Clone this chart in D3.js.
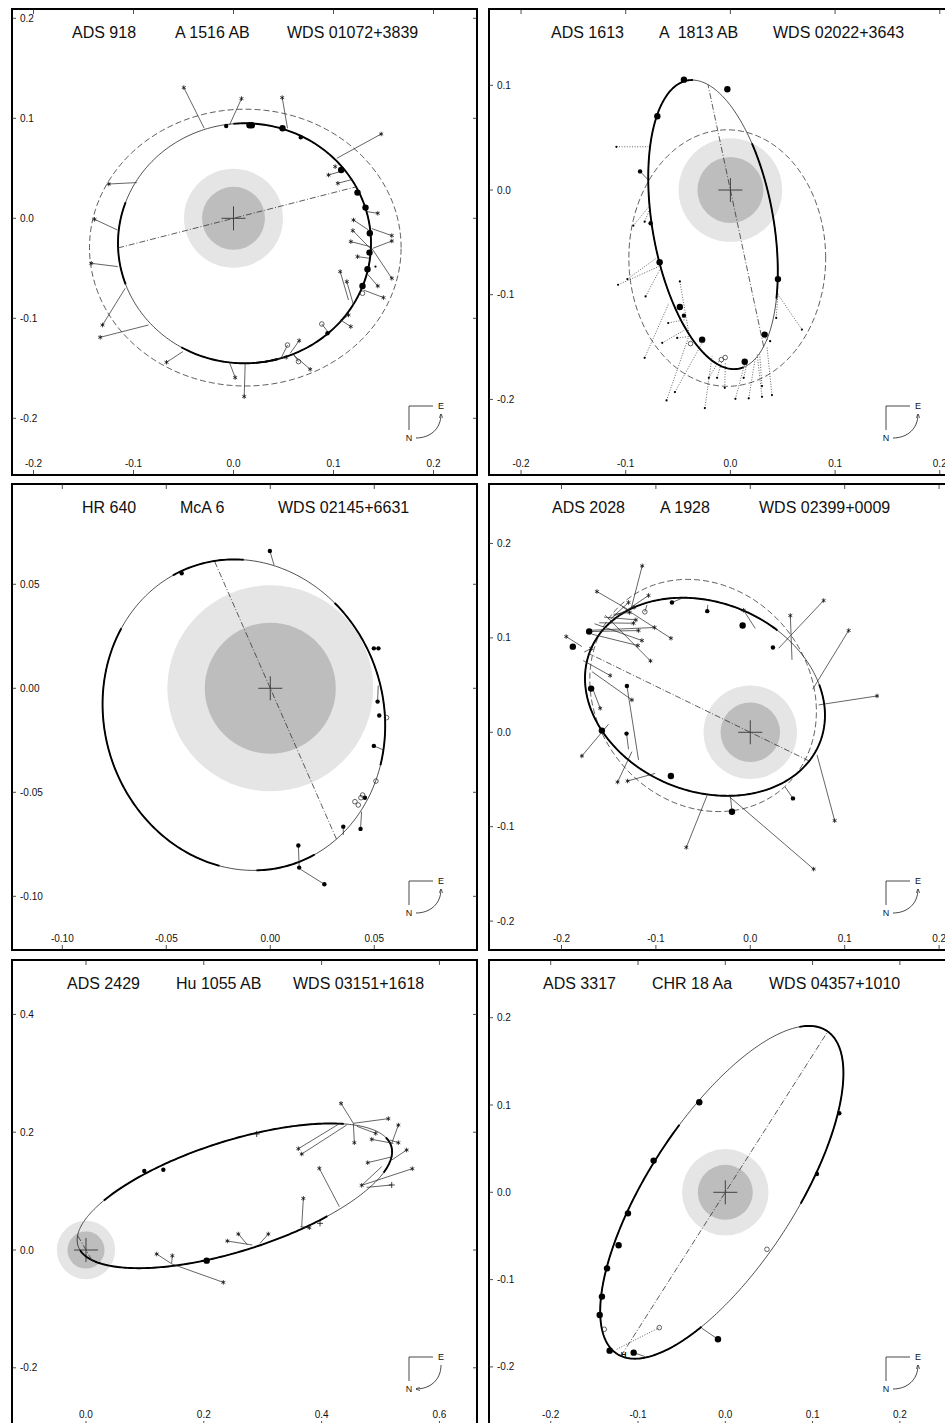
<!DOCTYPE html>
<html>
<head>
<meta charset="utf-8">
<script src="https://cdn.jsdelivr.net/npm/d3@7"></script>
<style>
body { margin: 0; background: #fff; }
text { font-family: "Liberation Sans", Arial, sans-serif; fill: #111; white-space: pre; }
</style>
</head>
<body>
<svg id="fig" width="945" height="1423"></svg>
<script>
// ---- data (arc-seconds) ----
var titles = [
    ["ADS 918", "A 1516 AB", "WDS 01072+3839"],
    ["ADS 1613", "A  1813 AB", "WDS 02022+3643"],
    ["HR 640", "McA 6", "WDS 02145+6631"],
    ["ADS 2028", "A 1928", "WDS 02399+0009"],
    ["ADS 2429", "Hu 1055 AB", "WDS 03151+1618"],
    ["ADS 3317", "CHR 18 Aa", "WDS 04357+1010"]
];
var xDomains = [[-0.2215, 0.2435], [-0.2306, 0.2136], [-0.1242, 0.0994], [-0.2768, 0.2158], [-0.1256, 0.6638], [-0.2707, 0.2620]];
var yDomains = [[-0.2567, 0.2093], [-0.2722, 0.1729], [-0.1258, 0.0982], [-0.2306, 0.2630], [-0.2988, 0.4924], [-0.2677, 0.2661]];
var xTicks = [[-0.2, -0.1, 0, 0.1, 0.2], [-0.2, -0.1, 0, 0.1, 0.2], [-0.1, -0.05, 0, 0.05], [-0.2, -0.1, 0, 0.1, 0.2], [0, 0.2, 0.4, 0.6], [-0.2, -0.1, 0, 0.1, 0.2]];
var yTicks = [[-0.2, -0.1, 0, 0.1, 0.2], [-0.2, -0.1, 0, 0.1], [-0.1, -0.05, 0, 0.05], [-0.2, -0.1, 0, 0.1, 0.2], [-0.2, 0, 0.2, 0.4], [-0.2, -0.1, 0, 0.1, 0.2]];
var tickDecimals = [1, 1, 2, 1, 1, 1];

// apparent orbits: centre x, centre y, semi-axis a, semi-axis b, tilt (deg)
var orbits = [
    [0.011, -0.025, 0.1265, 0.120, 0],
    [-0.0166, -0.033, 0.1398, 0.0578, 100],
    [-0.0127, -0.0128, 0.0755, 0.0671, 108],
    [-0.048, 0.0376, 0.131, 0.100, -22],
    [0.2523, 0.092, 0.279, 0.0933, 17.7],
    [-0.004, 0.0, 0.2206, 0.0841, 57]
];
var oldOrbits = [
    [0.0118, -0.0293, 0.1558, 0.1384, 0],
    [-0.003, -0.065, 0.094, 0.1225, 0],
    null,
    [-0.05, 0.039, 0.1297, 0.1127, -50],
    null,
    null
];
var nodeAngles = [14.4, 102, 113.7, 154, 120, 57.5];
var resolution = [0.0495, 0.0315];
var motionDir = [1, 1, 1, 1, -1, 1];

// observations: x, y, type, orbit x, orbit y
var obsA = [
    [-0.0073, 0.0923, "s"], [0.016, 0.093, "S"], [0.0183, 0.093, "S"], [0.049, 0.090, "S"],
    [0.0673, 0.081, "s"], [0.1077, 0.0483, "S"], [0.124, 0.0257, "S"], [0.132, 0.0107, "S"],
    [0.1363, -0.015, "S"], [0.136, -0.0343, "S"], [0.134, -0.051, "S"], [0.129, -0.0677, "S"],
    [0.094, -0.115, "s"], [0.129, -0.075, "o"], [0.0883, -0.1057, "o", 0.094, -0.113],
    [0.054, -0.1267, "o", 0.048, -0.139], [0.065, -0.1433, "o", 0.06, -0.136], [0.142, -0.0483, "."],
    [-0.0497, 0.1307, "*", -0.0293, 0.090], [0.008, 0.1197, "*", -0.004, 0.0933],
    [0.0487, 0.1207, "*", 0.054, 0.090], [0.1477, 0.0843, "*", 0.1033, 0.060],
    [0.1017, 0.0517, "*"], [0.095, 0.0433, "*", 0.1067, 0.0467], [0.1043, 0.035, "*", 0.1193, 0.039],
    [0.1443, 0.005, "*", 0.1333, 0.0067], [0.12, -0.0017, "*", 0.135, -0.0117],
    [0.1193, -0.0123, "*", 0.1367, -0.030], [0.1173, -0.0233, "*", 0.1367, -0.0283],
    [0.1583, -0.0173, "*", 0.1383, -0.0103], [0.1583, -0.0227, "*", 0.1393, -0.030],
    [0.124, -0.0383, "*", 0.136, -0.040], [0.1583, -0.060, "*", 0.1383, -0.030],
    [0.1443, -0.0677, "*", 0.1333, -0.055], [0.150, -0.0793, "*", 0.130, -0.0717],
    [0.1067, -0.0533, "*", 0.115, -0.0817], [0.1133, -0.0633, "*", 0.12, -0.0867],
    [0.115, -0.0967, "*", 0.107, -0.1033], [0.1173, -0.1083, "*", 0.107, -0.1017],
    [0.0657, -0.1223, "*", 0.0567, -0.135], [0.0527, -0.139, "*", 0.0407, -0.141],
    [0.0767, -0.151, "*", 0.060, -0.1367], [0.0017, -0.1593, "*", -0.004, -0.1443],
    [0.0107, -0.1783, "*", 0.0117, -0.145], [-0.067, -0.144, "*", -0.0507, -0.1333],
    [-0.1333, -0.119, "*", -0.085, -0.1067], [-0.131, -0.1067, "*", -0.1083, -0.070],
    [-0.1423, -0.045, "*", -0.1157, -0.0483], [-0.139, -0.001, "*", -0.116, -0.0117],
    [-0.1247, 0.0343, "*", -0.0967, 0.0357]
];
var obsB = [
    [-0.0444, 0.1054, "S"], [-0.0029, 0.0962, "S"], [-0.0698, 0.0705, "S"],
    [-0.0863, 0.0178, "s", -0.0784, 0.0095], [-0.0762, -0.0317, "s"], [-0.0676, -0.0689, "S"],
    [0.0454, -0.0851, "S"], [-0.0483, -0.1117, "S"], [-0.0444, -0.120, "s"], [-0.027, -0.1429, "S"],
    [0.0327, -0.1381, "S"], [0.0137, -0.1641, "S"],
    [-0.0381, -0.1467, "o"], [-0.0086, -0.162, "o"], [-0.005, -0.160, "o"],
    [-0.1089, 0.0413, ".", -0.0784, 0.0413], [-0.0927, -0.034, ".", -0.0778, -0.0159],
    [-0.0819, -0.0302, ".", -0.077, -0.018], [-0.0984, -0.0851, ".", -0.0698, -0.0644],
    [-0.1073, -0.0905, ".", -0.0683, -0.073], [-0.081, -0.1016, ".", -0.0676, -0.0762],
    [-0.0483, -0.0873, ".", -0.0397, -0.1365], [-0.0594, -0.127, ".", -0.0429, -0.1238],
    [-0.0651, -0.146, ".", -0.0429, -0.1333], [-0.0819, -0.1603, ".", -0.0587, -0.1079],
    [-0.0508, -0.1413, ".", -0.04, -0.14], [-0.061, -0.201, ".", -0.0397, -0.1397],
    [-0.053, -0.193, ".", -0.027, -0.146], [-0.0244, -0.2083, ".", -0.0175, -0.1587],
    [-0.0206, -0.1794, ".", -0.0111, -0.1635], [-0.0127, -0.1794, ".", -0.008, -0.163],
    [-0.0054, -0.1889, ".", -0.0048, -0.165], [0.0048, -0.1994, ".", 0.0143, -0.1635],
    [0.0175, -0.199, ".", 0.0238, -0.1603], [0.0127, -0.1794, ".", 0.016, -0.164],
    [0.0302, -0.1975, ".", 0.0254, -0.1556], [0.0302, -0.1873, ".", 0.028, -0.157],
    [0.0397, -0.1959, ".", 0.0349, -0.1492], [0.0438, -0.1222, ".", 0.0454, -0.0984],
    [0.0683, -0.1333, ".", 0.0454, -0.0997], [0.038, -0.1444, ".", 0.033, -0.141]
];
var obsC = [
    [-0.0002, 0.066, "s", 0.0018, 0.0593], [-0.0426, 0.0553, "s"], [0.0498, 0.0192, "s"],
    [0.052, 0.0192, "s"], [0.0516, -0.0064, "s", 0.0519, 0.0013], [0.0524, -0.0131, "s"],
    [0.0498, -0.0277, "s", 0.0543, -0.0296], [0.0455, -0.0526, "s"],
    [0.0351, -0.0665, "s", 0.0351, -0.0705], [0.0434, -0.0676, "s", 0.0439, -0.0593],
    [0.0135, -0.0756, "s", 0.0139, -0.0862], [0.0139, -0.0862, "s"], [0.026, -0.0942, "s", 0.0145, -0.087],
    [0.0559, -0.0141, "o"], [0.0508, -0.0446, "o"], [0.0444, -0.0513, "o"],
    [0.0436, -0.0526, "o"], [0.0407, -0.0545, "o"], [0.0423, -0.0561, "o"]
];
var obsD = [
    [-0.1707, 0.1067, "S"], [-0.188, 0.0907, "S"], [-0.1686, 0.0463, "S"], [-0.1572, 0.0018, "S"],
    [-0.1311, -0.0014, "s", -0.129, -0.018], [-0.1307, 0.0491, "s", -0.1184, -0.0293],
    [-0.083, 0.1375, "s", -0.07, 0.143], [-0.0456, 0.1283, "s", -0.045, 0.135],
    [-0.0081, 0.1131, "S"], [0.024, 0.0898, "s"], [-0.0841, -0.0463, "S"],
    [-0.0194, -0.0841, "S", -0.021, -0.068], [0.0452, -0.070, "s", 0.037, -0.058],
    [-0.1117, 0.1276, "o", -0.1095, 0.135],
    [-0.1145, 0.1763, "*", -0.1261, 0.1314], [-0.1625, 0.1491, "*", -0.129, 0.1297],
    [-0.1078, 0.1449, "*", -0.1392, 0.1237], [-0.195, 0.1014, "*", -0.1784, 0.0908],
    [-0.0841, 0.0996, "*", -0.136, 0.1332], [-0.1057, 0.0756, "*", -0.1537, 0.124],
    [-0.1184, 0.1078, "*", -0.170, 0.1067], [-0.1014, 0.111, "*", -0.170, 0.108],
    [-0.1148, 0.0972, "*", -0.165, 0.115], [-0.1191, 0.0919, "*", -0.168, 0.104],
    [-0.1237, 0.1155, "*", -0.160, 0.116], [-0.1212, 0.1191, "*", -0.155, 0.122],
    [-0.123, 0.1325, "*", -0.145, 0.123], [-0.129, 0.1375, "*", -0.148, 0.120],
    [-0.1279, 0.1269, "*", -0.145, 0.125], [0.0777, 0.1396, "*", 0.030, 0.089],
    [0.0424, 0.1237, "*", 0.0442, 0.0767], [-0.0071, 0.1293, "*", 0.0053, 0.110],
    [0.1042, 0.1078, "*", 0.0661, 0.0456], [0.1343, 0.0385, "*", 0.0724, 0.029],
    [0.0894, -0.0936, "*", 0.0707, -0.024], [0.0671, -0.1449, "*", -0.023, -0.0675],
    [-0.0678, -0.1219, "*", -0.0449, -0.0647], [-0.1406, -0.0527, "*", -0.1254, -0.0205],
    [-0.130, -0.0516, "*", -0.1007, -0.0435], [-0.1784, -0.0251, "*", -0.1502, 0.0085],
    [-0.1254, 0.0343, "*", -0.1678, 0.0643], [-0.1484, 0.0601, "*", -0.177, 0.076],
    [-0.1686, 0.0887, "*", -0.176, 0.085], [-0.159, 0.0254, "*", -0.167, 0.0463]
];
var obsE = [
    [0.099, 0.1341, "s"], [0.1313, 0.1364, "s"], [0.2049, -0.0181, "S"],
    [0.4329, 0.249, "*", 0.4539, 0.2151], [0.5133, 0.223, "*", 0.4539, 0.2151],
    [0.4556, 0.1822, "*", 0.4539, 0.2151], [0.3605, 0.172, "*", 0.4312, 0.2151],
    [0.3662, 0.163, "*", 0.4426, 0.2122], [0.4918, 0.1981, "*", 0.460, 0.210],
    [0.4851, 0.1879, "*", 0.522, 0.181], [0.5303, 0.2122, "*", 0.519, 0.181],
    [0.5303, 0.1822, "*", 0.516, 0.1868], [0.5443, 0.1698, "*", 0.519, 0.1528],
    [0.4782, 0.1483, "*", 0.5206, 0.1585], [0.554, 0.1381, "*", 0.468, 0.1098],
    [0.468, 0.1098, "*", 0.502, 0.1415], [0.519, 0.1104, "+", 0.4765, 0.1064],
    [0.3961, 0.1387, "*", 0.4301, 0.0736], [0.369, 0.0877, "*", 0.3662, 0.0396],
    [0.3792, 0.0379, "*", 0.364, 0.0396], [0.3973, 0.0453, "+"],
    [0.3096, 0.0272, "*", 0.2954, 0.0113], [0.2586, 0.0272, "*", 0.274, 0.009],
    [0.240, 0.0153, "*", 0.2824, 0.0085], [0.2898, 0.197, "+"],
    [0.2332, -0.0549, "*", 0.146, -0.0238], [0.120, -0.0068, "*", 0.146, -0.0238],
    [0.1466, -0.0096, "*", 0.1455, -0.022]
];
var obsF = [
    [-0.0298, 0.1031, "S"], [-0.0821, 0.0363, "S"], [-0.1115, -0.0241, "S"], [-0.1222, -0.0607, "S"],
    [-0.1355, -0.0871, "S"], [-0.1413, -0.1195, "S"], [-0.1439, -0.1405, "S"], [-0.1325, -0.1814, "S"],
    [-0.105, -0.1837, "S", -0.0916, -0.1883], [-0.0084, -0.1684, "S", -0.0267, -0.1558],
    [0.1306, 0.0905, "s"], [0.105, 0.021, "s"], [0.0477, -0.0653, "o"], [-0.1386, -0.1569, "o"],
    [-0.0756, -0.155, "o:", -0.126, -0.1806], [-0.1165, -0.1856, "H"]
];
var observations = [obsA, obsB, obsC, obsD, obsE, obsF];

// ---- layout / style ----
var colX = [12, 489], rowY = [9, 484, 960];
var W = 465, H = 466;
var titleX = [[60, 163, 275], [62, 170, 284], [70, 168, 266], [63, 171, 270], [55, 164, 281], [54, 163, 280]];
// parameter ranges (deg) drawn with the heavy pen
var thickArcs = [
    [[-85, 95], [160, 200], [240, 285]],
    [[-5, 185], [235, 300]],
    [[-20, 10], [40, 150], [165, 190], [235, 300]],
    [[70, 395]],
    [[40, 140], [185, 300], [335, 370]],
    [[-80, 20], [80, 230]]
];

var svg = d3.select("#fig");
svg.append("rect").attr("width", 945).attr("height", 1423).attr("fill", "#fff");

var defs = svg.append("defs");
defs.append("marker")
    .attr("id", "arrow")
    .attr("viewBox", "0 -5 10 10")
    .attr("refX", 9)
    .attr("refY", 0)
    .attr("markerWidth", 5)
    .attr("markerHeight", 5)
    .attr("orient", "auto")
    .append("path")
    .attr("d", "M0,-4L10,0L0,4")
    .attr("fill", "none")
    .attr("stroke", "#222")
    .attr("stroke-width", 1.4);

function ellPoint(o, tDeg) {
    var r = o[4] * Math.PI / 180, t = tDeg * Math.PI / 180;
    var ca = Math.cos(t) * o[2], sb = Math.sin(t) * o[3];
    return [o[0] + ca * Math.cos(r) - sb * Math.sin(r), o[1] + ca * Math.sin(r) + sb * Math.cos(r)];
}

function arcPoints(o, t0, t1) {
    var pts = [];
    for (var t = t0; t <= t1; t += 1) pts.push(ellPoint(o, t));
    return pts;
}

// where the line of nodes through the primary meets the orbit
function nodeChord(o, angDeg) {
    var r = o[4] * Math.PI / 180, c = Math.cos(r), s = Math.sin(r);
    var px = -o[0], py = -o[1];
    var pu = (px * c + py * s) / o[2], pv = (-px * s + py * c) / o[3];
    var a = angDeg * Math.PI / 180, dx = Math.cos(a), dy = Math.sin(a);
    var du = (dx * c + dy * s) / o[2], dv = (-dx * s + dy * c) / o[3];
    var A = du * du + dv * dv, B = 2 * (pu * du + pv * dv), C = pu * pu + pv * pv - 1;
    var disc = Math.sqrt(Math.max(0, B * B - 4 * A * C));
    var s1 = (-B - disc) / (2 * A), s2 = (-B + disc) / (2 * A);
    return [[s1 * dx, s1 * dy], [s2 * dx, s2 * dy]];
}

titles.forEach(function (tt, i) {
    var left = colX[i % 2], top = rowY[Math.floor(i / 2)];
    var right = left + W, bottom = top + H;
    var x = d3.scaleLinear().domain(xDomains[i]).range([left, right]);
    var y = d3.scaleLinear().domain(yDomains[i]).range([bottom, top]);
    var line = d3.line().x(function (d) { return x(d[0]); }).y(function (d) { return y(d[1]); });

    defs.append("clipPath").attr("id", "clip" + i)
        .append("rect").attr("x", left).attr("y", top).attr("width", W).attr("height", H);

    var g = svg.append("g").attr("clip-path", "url(#clip" + i + ")");

    // resolution circles and primary
    g.append("circle").attr("cx", x(0)).attr("cy", y(0))
        .attr("r", x(resolution[0]) - x(0)).attr("fill", "#e5e5e5");
    g.append("circle").attr("cx", x(0)).attr("cy", y(0))
        .attr("r", x(resolution[1]) - x(0)).attr("fill", "#bdbdbd");
    g.append("path")
        .attr("d", "M" + (x(0) - 12) + "," + y(0) + "h24M" + x(0) + "," + (y(0) - 12) + "v24")
        .attr("stroke", "#333").attr("stroke-width", 0.9);

    // earlier orbit
    if (oldOrbits[i]) {
        g.append("path")
            .attr("d", line(arcPoints(oldOrbits[i], 0, 360)))
            .attr("fill", "none").attr("stroke", "#333")
            .attr("stroke-width", 0.8).attr("stroke-dasharray", "6,3");
    }

    // orbit
    g.append("path")
        .attr("d", line(arcPoints(orbits[i], 0, 360)))
        .attr("fill", "none").attr("stroke", "#222").attr("stroke-width", 0.8);
    thickArcs[i].forEach(function (r) {
        g.append("path")
            .attr("d", line(arcPoints(orbits[i], r[0], r[1])))
            .attr("fill", "none").attr("stroke", "#000").attr("stroke-width", 1.9);
    });

    // line of nodes
    g.append("path")
        .attr("d", line(nodeChord(orbits[i], nodeAngles[i])))
        .attr("fill", "none").attr("stroke", "#333")
        .attr("stroke-width", 0.8).attr("stroke-dasharray", "6,2,1,2");

    // O-C lines
    var obs = observations[i];
    g.append("g").selectAll("line")
        .data(obs.filter(function (d) { return d.length > 3; }))
        .enter().append("line")
        .attr("x1", function (d) { return x(d[0]); })
        .attr("y1", function (d) { return y(d[1]); })
        .attr("x2", function (d) { return x(d[3]); })
        .attr("y2", function (d) { return y(d[4]); })
        .attr("stroke", "#222")
        .attr("stroke-width", 0.7)
        .attr("stroke-dasharray", function (d) {
            return (d[2] === "." || d[2] === "o:") ? "1,1.6" : null;
        });

    // observation marks
    var marks = g.append("g");
    obs.forEach(function (d) {
        var px = x(d[0]), py = y(d[1]), t = d[2];
        if (t === "S" || t === "s" || t === ".") {
            marks.append("circle").attr("cx", px).attr("cy", py)
                .attr("r", t === "S" ? 3.2 : (t === "s" ? 2.2 : 1.1)).attr("fill", "#000");
        } else if (t === "o" || t === "o:") {
            marks.append("circle").attr("cx", px).attr("cy", py)
                .attr("r", 2.3).attr("fill", "none").attr("stroke", "#222").attr("stroke-width", 0.7);
        } else if (t === "*" || t === "+") {
            marks.append("path")
                .attr("transform", "translate(" + px + "," + py + ")")
                .attr("d", d3.symbol().type(t === "*" ? d3.symbolAsterisk : d3.symbolPlus).size(14)())
                .attr("fill", "none").attr("stroke", "#111").attr("stroke-width", 0.8);
        } else if (t === "H") {
            marks.append("text").attr("x", px).attr("y", py + 3)
                .attr("text-anchor", "middle").style("font-size", "8px").style("font-weight", "bold")
                .text("H");
        }
    });

    // frame
    svg.append("rect").attr("x", left).attr("y", top).attr("width", W).attr("height", H)
        .attr("fill", "none").attr("stroke", "#000").attr("stroke-width", 2);

    // ticks
    var ax = svg.append("g").attr("stroke", "#222").attr("stroke-width", 0.8);
    xTicks[i].forEach(function (v) {
        ax.append("line").attr("x1", x(v)).attr("x2", x(v)).attr("y1", top).attr("y2", top + 5);
        ax.append("line").attr("x1", x(v)).attr("x2", x(v)).attr("y1", bottom - 5).attr("y2", bottom);
        svg.append("text").attr("x", x(v)).attr("y", bottom - 8)
            .attr("text-anchor", "middle").style("font-size", "10px")
            .text(v.toFixed(tickDecimals[i]));
    });
    yTicks[i].forEach(function (v) {
        ax.append("line").attr("x1", left).attr("x2", left + 4).attr("y1", y(v)).attr("y2", y(v));
        ax.append("line").attr("x1", right - 4).attr("x2", right).attr("y1", y(v)).attr("y2", y(v));
        svg.append("text").attr("x", left + 8).attr("y", y(v) + 3.5)
            .style("font-size", "10px")
            .text(v.toFixed(tickDecimals[i]));
    });

    // title
    tt.forEach(function (s, k) {
        svg.append("text").attr("x", left + titleX[i][k]).attr("y", top + 29)
            .style("font-size", "16px").text(s);
    });

    // orientation and direction of motion
    var cg = svg.append("g");
    cg.append("path")
        .attr("d", "M" + (right - 44) + "," + (bottom - 69) + "H" + (right - 68) + "V" + (bottom - 45))
        .attr("fill", "none").attr("stroke", "#333").attr("stroke-width", 0.9);
    cg.append("text").attr("x", right - 39).attr("y", bottom - 66).style("font-size", "9px").text("E");
    cg.append("text").attr("x", right - 68).attr("y", bottom - 34)
        .attr("text-anchor", "middle").style("font-size", "9px").text("N");
    var arc = motionDir[i] > 0
        ? "M" + (right - 61) + "," + (bottom - 37) + "C" + (right - 47) + "," + (bottom - 37) + " " + (right - 36) + "," + (bottom - 46) + " " + (right - 36) + "," + (bottom - 61)
        : "M" + (right - 36) + "," + (bottom - 61) + "C" + (right - 36) + "," + (bottom - 46) + " " + (right - 47) + "," + (bottom - 37) + " " + (right - 61) + "," + (bottom - 37);
    cg.append("path").attr("d", arc)
        .attr("fill", "none").attr("stroke", "#333").attr("stroke-width", 0.9)
        .attr("marker-end", "url(#arrow)");
});
</script>
</body>
</html>
